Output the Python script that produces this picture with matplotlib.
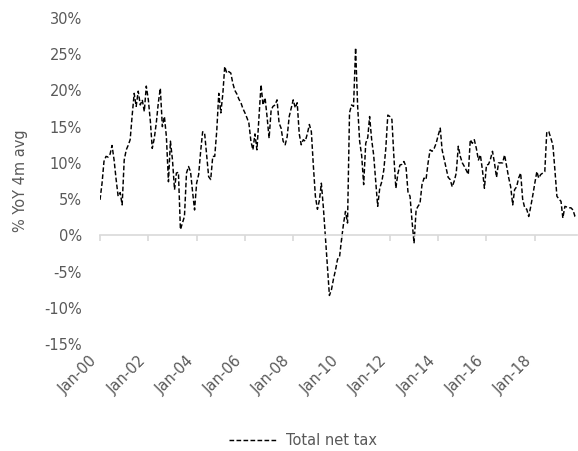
import matplotlib
matplotlib.use("Agg")
import matplotlib.pyplot as plt
import matplotlib.dates as mdates
import pandas as pd

# ---- data -------------------------------------------------------------
start_month = "2000-01-01"
series_name = "Total net tax"
y_label = "% YoY 4m avg"

total_net_tax = [
    # 2000
    4.9, 7.2, 10.2, 10.9, 10.8, 11.2, 12.4, 10.4, 7.7, 5.4, 5.9, 4.2,
    # 2001
    10.4, 11.8, 12.4, 13.2, 16.5, 19.6, 17.8, 19.9, 18.0, 18.7, 17.1, 20.6,
    # 2002
    18.7, 15.7, 12.0, 13.4, 15.5, 18.3, 20.3, 15.0, 16.4, 13.6, 7.4, 13.0,
    # 2003
    10.4, 6.3, 8.6, 8.7, 0.8, 1.7, 2.6, 8.6, 9.5, 8.8, 6.0, 3.5,
    # 2004
    7.2, 8.4, 11.5, 14.3, 14.1, 11.0, 8.1, 7.7, 10.9, 10.9, 14.5, 19.6,
    # 2005
    16.9, 19.6, 23.3, 22.4, 22.6, 22.4, 21.0, 20.0, 19.5, 18.8, 18.3, 17.5,
    # 2006
    16.9, 16.2, 15.5, 13.0, 11.8, 14.0, 11.8, 16.4, 20.8, 18.0, 19.0, 16.4,
    # 2007
    13.4, 17.3, 17.8, 18.0, 18.7, 15.5, 14.8, 13.0, 12.5, 13.6, 16.4, 17.5,
    # 2008
    18.7, 17.6, 18.3, 14.0, 12.5, 13.2, 13.0, 14.0, 15.3, 14.3, 9.5, 5.4,
    # 2009
    3.6, 4.9, 7.2, 3.8, -0.2, -4.5, -8.3, -7.5, -6.0, -4.8, -3.3, -3.0,
    # 2010
    -0.5, 1.7, 3.3, 1.7, 16.9, 18.0, 17.8, 25.9, 17.8, 13.0, 11.0, 7.0,
    # 2011
    12.7, 13.5, 16.4, 13.2, 11.1, 7.5, 4.0, 6.5, 7.4, 9.0, 12.0, 16.6,
    # 2012
    16.4, 16.0, 11.0, 6.5, 8.5, 9.7, 9.8, 10.2, 9.5, 6.0, 5.4, 2.0,
    # 2013
    -1.1, 3.5, 4.0, 4.4, 7.0, 7.9, 7.7, 10.0, 11.8, 11.6, 12.0, 12.7,
    # 2014
    13.8, 14.8, 11.8, 10.5, 9.3, 8.0, 7.7, 6.7, 7.5, 8.6, 12.3, 10.9,
    # 2015
    10.0, 9.5, 9.0, 8.4, 13.2, 12.7, 13.2, 12.0, 10.4, 11.1, 9.0, 6.5,
    # 2016
    9.7, 9.8, 10.5, 11.6, 10.0, 8.0, 10.0, 10.0, 10.0, 11.1, 9.5, 8.0,
    # 2017
    6.7, 4.2, 6.3, 6.7, 7.9, 8.6, 5.0, 3.8, 3.6, 2.6, 4.0, 5.5,
    # 2018
    7.2, 8.8, 7.9, 8.4, 8.6, 8.8, 14.3, 14.3, 13.4, 12.5, 9.0, 5.4,
    # 2019
    5.0, 4.7, 2.4, 4.0, 3.9, 3.8, 3.8, 3.5, 2.6, 2.4,
]

x_tick_years = [2000, 2002, 2004, 2006, 2008, 2010, 2012, 2014, 2016, 2018]
x_tick_labels = ["Jan-00", "Jan-02", "Jan-04", "Jan-06", "Jan-08",
                 "Jan-10", "Jan-12", "Jan-14", "Jan-16", "Jan-18"]
y_ticks = [-15, -10, -5, 0, 5, 10, 15, 20, 25, 30]
y_tick_labels = ["-15%", "-10%", "-5%", "0%", "5%", "10%", "15%", "20%", "25%", "30%"]

# ---- figure -----------------------------------------------------------
plt.rcParams["font.family"] = ["DejaVu Sans"]
TXT = "#595959"
AX = "#d9d9d9"
FS = 10.5

dates = pd.date_range(start_month, periods=len(total_net_tax), freq="MS")
tick_dates = [pd.Timestamp(f"{y}-01-01") for y in x_tick_years]

fig = plt.figure(figsize=(5.78, 4.51), dpi=100)
ax = fig.add_axes([100 / 578, 1 - 344 / 451, 477 / 578, (344 - 18) / 451])

line, = ax.plot(dates, total_net_tax, color="black", linewidth=1.05,
                linestyle=(0, (3.2, 1.6)), label=series_name)

ax.set_xlim(dates[0], dates[-1])
ax.set_ylim(-15, 30)

# y axis: labels only
ax.set_yticks(y_ticks)
ax.set_yticklabels(y_tick_labels, fontsize=FS, color=TXT)
ax.tick_params(axis="y", length=0, pad=13)
for s in ["left", "right", "top"]:
    ax.spines[s].set_visible(False)

# x axis line at zero with tick marks, labels drawn at the bottom
ax.spines["bottom"].set_position(("data", 0))
ax.spines["bottom"].set_color(AX)
ax.spines["bottom"].set_linewidth(1.2)
ax.set_xticks(tick_dates)
ax.tick_params(axis="x", which="major", direction="out", length=4,
               width=1.2, color=AX, labelbottom=False)

sec = ax.secondary_xaxis("bottom")
sec.set_xticks(tick_dates)
sec.set_xticklabels(x_tick_labels, fontsize=FS, color=TXT,
                    rotation=45, ha="right", va="top")
sec.tick_params(axis="x", length=0, pad=7)
sec.spines["bottom"].set_visible(False)

ax.set_ylabel(y_label, fontsize=FS, color=TXT)
ax.yaxis.set_label_coords(-72 / 477, 0.5)

fig.legend(handles=[line], loc="center", bbox_to_anchor=(0.524, 0.024),
           frameon=False, fontsize=FS, labelcolor=TXT,
           handlelength=3.4, handletextpad=0.55)

fig.savefig("out.png", dpi=100)
